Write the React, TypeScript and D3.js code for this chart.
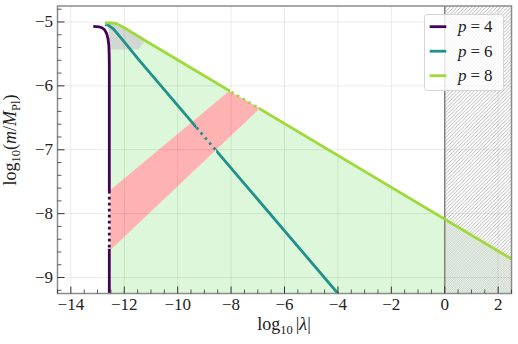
import React from "react"
import * as d3 from "d3"

type Pt = [number, number]

// axis ticks
const xTicks = [-14, -12, -10, -8, -6, -4, -2, 0, 2]
const yTicks = [-9, -8, -7, -6, -5]

// series
const pValues = [4, 6, 8]
const pColors = ["#440154", "#21918c", "#9fda3a"]

const curveP4: Pt[] = [
    [-13.16, -5.07], [-12.95, -5.075], [-12.84, -5.09], [-12.74, -5.12], [-12.66, -5.18],
    [-12.61, -5.26], [-12.58, -5.36], [-12.565, -5.5], [-12.56, -5.7], [-12.56, -9.25],
]
const curveP6: Pt[] = [
    [-12.72, -5.04], [-12.6, -5.05], [-12.4, -5.11], [-12.0, -5.31], [-11.5, -5.57], [-4.0, -9.25],
]
const curveP8: Pt[] = [
    [-12.72, -5.02], [-12.55, -5.01], [-12.3, -5.025], [-12.0, -5.09], [-11.22, -5.29], [2.5, -8.71],
]

// dotted stretches inside the red band
const dottedP4Y: Pt = [-8.55, -7.68]
const dottedP6X: Pt = [-9.29, -8.56]
const dottedP8X: Pt = [-8.04, -6.95]

// shaded regions
const bandPink: Pt[] = [[-12.52, -7.63], [-8.07, -6.08], [-6.92, -6.35], [-12.52, -8.57]]
const bandGray: Pt[] = [
    [-12.57, -5.43], [-12.57, -5.15], [-12.66, -5.03], [-12.55, -5.01], [-12.3, -5.025],
    [-12.0, -5.09], [-11.22, -5.29], [-11.47, -5.43],
]
const greenX: Pt = [-12.56, 0]
const hatchX: Pt = [0, 2.5]

const W = 518
const H = 344
const x = d3.scaleLinear().domain([-14.5, 2.5]).range([57.5, 511.5])
const y = d3.scaleLinear().domain([-9.25, -4.75]).range([293.5, 6])
const [x0, x1] = x.range()
const [y0, y1] = y.range()

const line = d3.line<Pt>().x(d => x(d[0])).y(d => y(d[1]))

function interpY(curve: Pt[], xv: number) {
    for (let i = 0; i < curve.length - 1; i++) {
        const a = curve[i], b = curve[i + 1]
        if (xv >= a[0] && xv <= b[0]) {
            const t = (xv - a[0]) / (b[0] - a[0])
            return a[1] + t * (b[1] - a[1])
        }
    }
    return curve[curve.length - 1][1]
}

function underCurve(curve: Pt[], lo: number, hi: number): Pt[] {
    const bottom = y.domain()[0]
    const pts: Pt[] = [[lo, bottom], [lo, interpY(curve, lo)]]
    curve.filter(d => d[0] > lo && d[0] < hi).forEach(d => pts.push(d))
    pts.push([hi, interpY(curve, hi)], [hi, bottom])
    return pts
}

const minus = (v: number) => (v < 0 ? "\u2212" + Math.abs(v) : String(v))

const txt = { fontFamily: "'Liberation Serif', 'DejaVu Serif', serif" }

export default function App() {
    const xMinor = d3.range(-14.5, 2.51, 0.5).filter(v => Math.abs(v - Math.round(v / 2) * 2) > 1e-6)
    const yMinor = d3.range(-9.2, -4.79, 0.2).filter(v => Math.abs(v - Math.round(v)) > 1e-6)

    // clip rectangles in pixel space
    const clipX = (lo: number, hi: number) => ({ x: x(lo), w: x(hi) - x(lo) })
    const p6In = clipX(dottedP6X[0], dottedP6X[1])
    const p8In = clipX(dottedP8X[0], dottedP8X[1])
    const p4Top = y(dottedP4Y[1])
    const p4Bot = y(dottedP4Y[0])

    return (
        <svg width={W} height={H} style={{ position: "absolute", left: 0, top: 0, background: "#fff" }}>
            <defs>
                <pattern id="hatch" patternUnits="userSpaceOnUse" width={3.6} height={3.6}>
                    <path d="M-0.9,0.9 L0.9,-0.9 M0,3.6 L3.6,0 M2.7,4.5 L4.5,2.7" stroke="#8a8a8a" strokeWidth={0.6} />
                </pattern>
                <pattern id="hatch2" patternUnits="userSpaceOnUse" width={3.6} height={3.6} x={1.8}>
                    <path d="M-0.9,0.9 L0.9,-0.9 M0,3.6 L3.6,0 M2.7,4.5 L4.5,2.7" stroke="#9a9a9a" strokeWidth={0.5} />
                </pattern>
                <clipPath id="plot"><rect x={x0} y={y1} width={x1 - x0} height={y0 - y1} /></clipPath>
                <clipPath id="p6out">
                    <rect x={0} y={0} width={p6In.x} height={H} />
                    <rect x={p6In.x + p6In.w} y={0} width={W} height={H} />
                </clipPath>
                <clipPath id="p6in"><rect x={p6In.x} y={0} width={p6In.w} height={H} /></clipPath>
                <clipPath id="p8out">
                    <rect x={0} y={0} width={p8In.x} height={H} />
                    <rect x={p8In.x + p8In.w} y={0} width={W} height={H} />
                </clipPath>
                <clipPath id="p8in"><rect x={p8In.x} y={0} width={p8In.w} height={H} /></clipPath>
                <clipPath id="p4out">
                    <rect x={0} y={0} width={W} height={p4Top} />
                    <rect x={0} y={p4Bot} width={W} height={H} />
                </clipPath>
                <clipPath id="p4in"><rect x={0} y={p4Top} width={W} height={p4Bot - p4Top} /></clipPath>
            </defs>

            <g clipPath="url(#plot)">
                {/* allowed region */}
                <path d={line(underCurve(curveP8, greenX[0], greenX[1])) + "Z"} fill="#dcf7d9" />
                <path d={line(bandGray) + "Z"} fill="#d0d8d3" />
                <path d={line(bandPink) + "Z"} fill="#ffb2b2" />

                {/* excluded region */}
                <rect x={x(hatchX[0])} y={y1} width={x(hatchX[1]) - x(hatchX[0])} height={y0 - y1} fill="url(#hatch)" />
                <path d={line(underCurve(curveP8, hatchX[0], hatchX[1])) + "Z"} fill="#e4f7e2" fillOpacity={0.5} />
                <path d={line(underCurve(curveP8, hatchX[0], hatchX[1])) + "Z"} fill="url(#hatch2)" />
                <line x1={x(0)} x2={x(0)} y1={y1} y2={y0} stroke="#8a8a8a" strokeWidth={1.5} />

                {/* grid */}
                {xTicks.map(v => (
                    <line key={"gx" + v} x1={x(v)} x2={x(v)} y1={y1} y2={y0} stroke="#000" strokeOpacity={0.08} />
                ))}
                {yTicks.map(v => (
                    <line key={"gy" + v} x1={x0} x2={x1} y1={y(v)} y2={y(v)} stroke="#000" strokeOpacity={0.08} />
                ))}

                {/* curves */}
                <path d={line(curveP4)!} fill="none" stroke={pColors[0]} strokeWidth={2.8} clipPath="url(#p4out)" />
                <path d={line(curveP4)!} fill="none" stroke={pColors[0]} strokeWidth={2.8} strokeDasharray="2.6 3.4"
                    clipPath="url(#p4in)" />
                <path d={line(curveP6)!} fill="none" stroke={pColors[1]} strokeWidth={2.8} clipPath="url(#p6out)" />
                <path d={line(curveP6)!} fill="none" stroke={pColors[1]} strokeWidth={2.8} strokeDasharray="2.6 4"
                    clipPath="url(#p6in)" />
                <path d={line(curveP8)!} fill="none" stroke={pColors[2]} strokeWidth={2.8} clipPath="url(#p8out)" />
                <path d={line(curveP8)!} fill="none" stroke={pColors[2]} strokeWidth={2.8} strokeDasharray="2.6 4"
                    clipPath="url(#p8in)" />
            </g>

            {/* spines */}
            <rect x={x0} y={y1} width={x1 - x0} height={y0 - y1} fill="none" stroke="#8c8c8c" strokeWidth={1.5} />

            {/* ticks */}
            {xTicks.map(v => (
                <g key={"xt" + v}>
                    <line x1={x(v)} x2={x(v)} y1={y0} y2={y0 - 7} stroke="#333" strokeWidth={1} />
                    <text x={x(v)} y={310} textAnchor="middle" fontSize={17} fill="#222" style={txt}>{minus(v)}</text>
                </g>
            ))}
            {xMinor.map(v => (
                <line key={"xm" + v} x1={x(v)} x2={x(v)} y1={y0} y2={y0 - 4} stroke="#333" strokeWidth={0.8} />
            ))}
            {yTicks.map(v => (
                <g key={"yt" + v}>
                    <line x1={x0} x2={x0 + 7} y1={y(v)} y2={y(v)} stroke="#333" strokeWidth={1} />
                    <text x={53} y={y(v) + 5.5} textAnchor="end" fontSize={17} fill="#222" style={txt}>{minus(v)}</text>
                </g>
            ))}
            {yMinor.map(v => (
                <line key={"ym" + v} x1={x0} x2={x0 + 4} y1={y(v)} y2={y(v)} stroke="#333" strokeWidth={0.8} />
            ))}

            {/* axis labels */}
            <text x={284} y={330} textAnchor="middle" fontSize={18} fill="#222" style={txt}>
                log<tspan fontSize={12.5} dy={4}>10</tspan>
                <tspan dy={-4} dx={3}>|</tspan><tspan fontStyle="italic">λ</tspan>|
            </text>
            <text transform="translate(16,140) rotate(-90)" textAnchor="middle" fontSize={18} fill="#222" style={txt}>
                log<tspan fontSize={12.5} dy={4}>10</tspan>
                <tspan dy={-4}>(</tspan><tspan fontStyle="italic">m</tspan>/<tspan fontStyle="italic">M</tspan>
                <tspan fontSize={12.5} dy={4}>Pl</tspan><tspan dy={-4}>)</tspan>
            </text>

            {/* legend */}
            <g>
                <rect x={424.5} y={14.5} width={79} height={76} rx={3} fill="#fff" fillOpacity={0.8}
                    stroke="#d4d4d4" strokeWidth={1} />
                {pValues.map((p, i) => {
                    const ly = 26.7 + i * 24.5
                    return (
                        <g key={"lg" + p}>
                            <line x1={429.7} x2={446.3} y1={ly} y2={ly} stroke={pColors[i]} strokeWidth={2.8} />
                            <text x={458} y={ly + 5.5} fontSize={17} fill="#222" style={txt}>
                                <tspan fontStyle="italic">p</tspan><tspan dx={4}>=</tspan><tspan dx={4}>{p}</tspan>
                            </text>
                        </g>
                    )
                })}
            </g>
        </svg>
    )
}
